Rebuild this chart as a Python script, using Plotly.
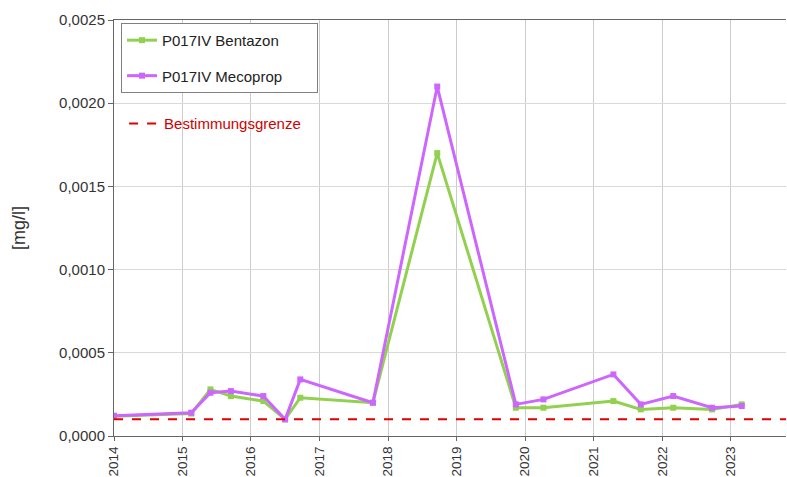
import plotly.graph_objects as go

dates = ["2014-01-01", "2015-02-17", "2015-05-30", "2015-09-16", "2016-03-07",
         "2016-07-01", "2016-09-20", "2017-10-12", "2018-09-20", "2019-11-13",
         "2020-04-08", "2021-04-16", "2021-09-09", "2022-03-01", "2022-09-24",
         "2023-03-01"]
bentazon = [0.000118, 0.000135, 0.00028, 0.00024, 0.00021, 0.0001, 0.00023, 0.0002,
            0.0017, 0.00017, 0.00017, 0.00021, 0.00016, 0.00017, 0.00016, 0.00019]
mecoprop = [0.000122, 0.00014, 0.00026, 0.00027, 0.00024, 0.0001, 0.00034, 0.0002,
            0.0021, 0.00019, 0.00022, 0.00037, 0.00019, 0.00024, 0.00017, 0.00018]
limit_value = 0.0001
x_range = ["2014-01-01", "2023-10-23"]
tick_years = [str(y) for y in range(2014, 2024)]

pad = "\u00a0" * 7

fig = go.Figure()
fig.add_trace(go.Scatter(x=dates, y=bentazon, name="P017IV Bentazon" + pad, mode="lines+markers",
                         line=dict(color="#92D050", width=3),
                         marker=dict(symbol="square", size=6, color="#92D050"),
                         legend="legend", legendgroup="a"))
fig.add_trace(go.Scatter(x=dates, y=mecoprop, name="P017IV Mecoprop" + pad, mode="lines+markers",
                         line=dict(color="#CC66FF", width=3),
                         marker=dict(symbol="square", size=6, color="#CC66FF"),
                         legend="legend", legendgroup="b"))
fig.add_trace(go.Scatter(x=x_range, y=[limit_value, limit_value], name="Bestimmungsgrenze",
                         mode="lines", line=dict(color="#E00000", width=2, dash="dash"),
                         legend="legend2"))

fig.update_layout(
    width=787, height=477,
    margin=dict(l=114, r=1, t=20, b=41, autoexpand=False),
    paper_bgcolor="white", plot_bgcolor="white",
    separators=", ",
    font=dict(family="Liberation Sans, Arial, sans-serif", size=15, color="#333333"),
    legend=dict(x=0.0104, y=0.993, xanchor="left", yanchor="top",
                bordercolor="#808080", borderwidth=1, bgcolor="white",
                font=dict(size=15, color="#222222"), tracegroupgap=13,
                itemwidth=30),
    legend2=dict(x=0.015, y=0.79, xanchor="left", yanchor="top",
                 bgcolor="rgba(0,0,0,0)",
                 font=dict(size=15, color="#D00000")),
    xaxis=dict(type="date", range=x_range, tickvals=[f"{y}-01-01" for y in tick_years],
               ticktext=tick_years, tickangle=-90, showgrid=True, gridcolor="#cccccc",
               showline=True, linecolor="#666666", mirror=True, ticks="outside",
               ticklen=4, tickcolor="#666666", zeroline=False, automargin=False,
               tickfont=dict(size=13.5)),
    yaxis=dict(range=[0, 0.0025], tickvals=[0, 0.0005, 0.001, 0.0015, 0.002, 0.0025],
               tickformat=".4f", showgrid=True, gridcolor="#d9d9d9",
               showline=True, linecolor="#666666", ticks="outside", ticklen=5,
               tickcolor="#666666", zeroline=False, automargin=False,
               title=dict(text="[mg/l]", standoff=28)),
)

fig.write_html("out.html", config={"displayModeBar": False},
               post_script="document.body.style.margin='0';")
